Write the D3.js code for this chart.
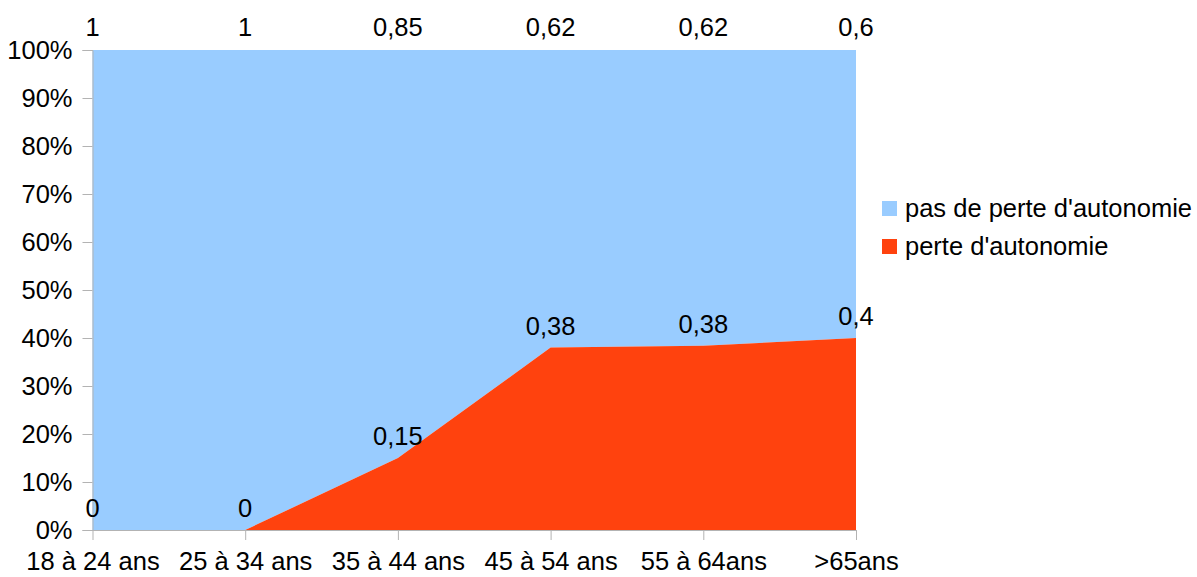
<!DOCTYPE html>
<html><head><meta charset="utf-8">
<script src="https://cdn.jsdelivr.net/npm/d3@7"></script>
<style>body{margin:0;background:#fff}text{font-family:"Liberation Sans",Arial,sans-serif;fill:#000}</style>
</head><body>
<svg id="c" width="1197" height="577"></svg>
<script>
const categories = ["18 à 24 ans","25 à 34 ans","35 à 44 ans","45 à 54 ans","55 à 64ans",">65ans"];
const perte = [0, 0, 0.15, 0.38, 0.384, 0.4];
const pasPerte = [1, 1, 0.85, 0.62, 0.616, 0.6];
const yTicks = [0,0.1,0.2,0.3,0.4,0.5,0.6,0.7,0.8,0.9,1];
const seriesNames = ["pas de perte d'autonomie","perte d'autonomie"];
const colors = ["#99ccff","#ff420e"];

const svg = d3.select("#c");
const L=92.5, R=856, T=50, B=530;
const x = d3.scalePoint().domain(categories).range([L,R]);
const y = d3.scaleLinear().domain([0,1]).range([B,T]);
const fmt = v => d3.format(".2~f")(v).replace(".",",");

const rows = categories.map((c,i)=>({c, perte:perte[i], pas:pasPerte[i]}));
const stack = d3.stack().keys(["perte","pas"])(rows);

const area = d3.area().x(d=>x(d.data.c)).y0(d=>y(d[0])).y1(d=>y(d[1]));
svg.append("path").datum(stack[1]).attr("d",area).attr("fill",colors[0]);
svg.append("path").datum(stack[0]).attr("d",area).attr("fill",colors[1]);

const fs = 25.5;
// y axis
const ya = svg.append("g").attr("transform",`translate(${L},0)`).call(d3.axisLeft(y).tickValues(yTicks).tickFormat(d3.format(".0%")).tickSize(10).tickPadding(10));
ya.select(".domain").attr("stroke","#b3b3b3");
ya.selectAll(".tick line").attr("stroke","#b3b3b3");
ya.selectAll("text").style("font-size",fs+"px").attr("font-family",null);
// x axis
const xa = svg.append("g").attr("transform",`translate(0,${B})`).call(d3.axisBottom(x).tickSize(10).tickSizeOuter(0).tickPadding(12));
xa.select(".domain").attr("stroke","#b3b3b3");
xa.selectAll(".tick line").attr("stroke","#b3b3b3");
xa.selectAll("text").style("font-size",fs+"px").attr("font-family",null);

// labels
svg.selectAll(".lp").data(stack[0]).join("text")
 .attr("x",d=>x(d.data.c)).attr("y",d=>y(d[1])-13).attr("text-anchor","middle")
 .style("font-size",fs+"px").text(d=>fmt(d.data.perte));
svg.selectAll(".lb").data(stack[1]).join("text")
 .attr("x",d=>x(d.data.c)).attr("y",d=>y(d[1])-14).attr("text-anchor","middle")
 .style("font-size",fs+"px").text(d=>fmt(d.data.pas));

// legend
const lg = svg.append("g").attr("transform","translate(882,201)");
seriesNames.forEach((n,i)=>{
  lg.append("rect").attr("x",0).attr("y",i*38).attr("width",15).attr("height",15).attr("fill",colors[i]);
  lg.append("text").attr("x",23).attr("y",i*38+16).style("font-size",fs+"px").text(n);
});
</script>
</body></html>
